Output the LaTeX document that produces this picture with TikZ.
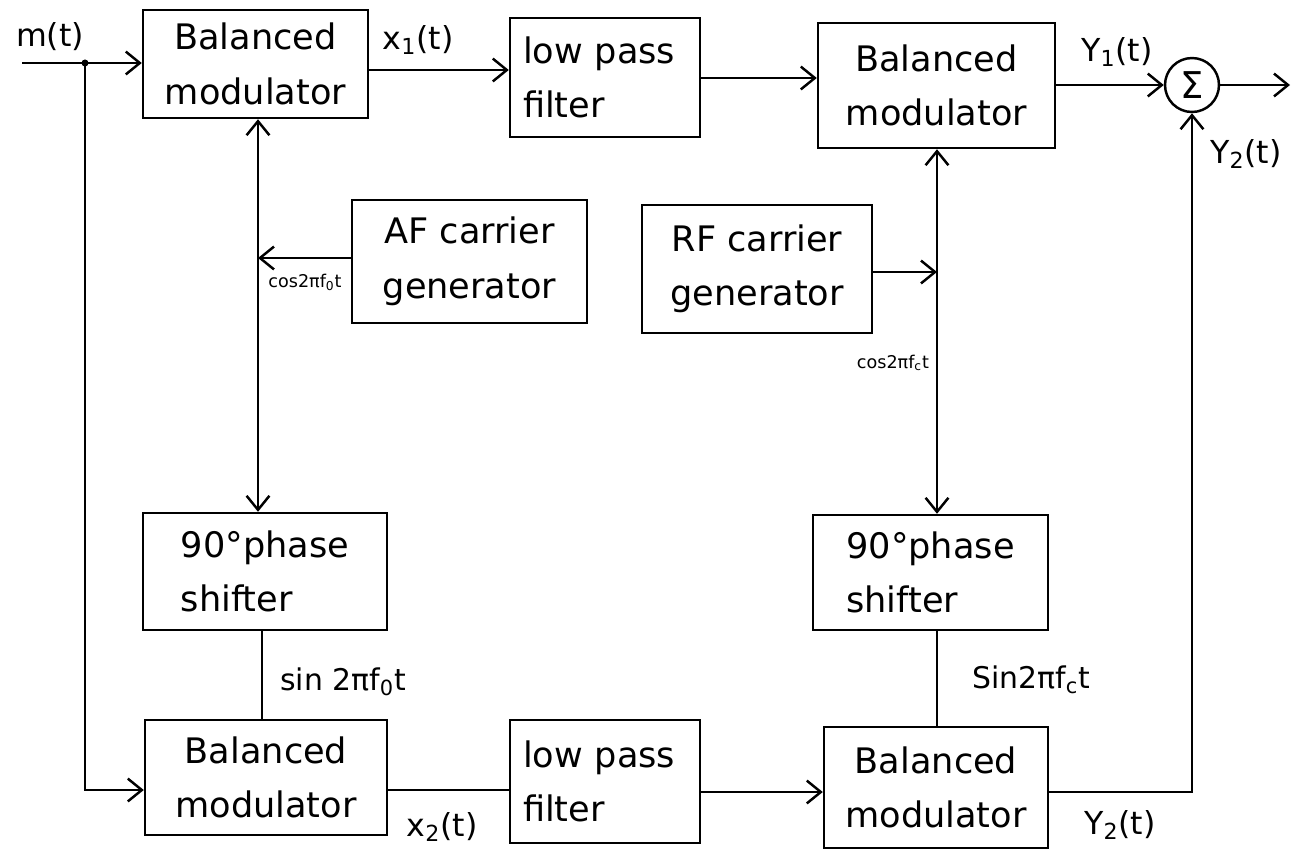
\documentclass[tikz,border=0pt]{standalone}
\usepackage{fontspec}
\setmainfont{DejaVu Sans}
\usetikzlibrary{arrows.meta,calc}
\begin{document}
\begin{tikzpicture}[x=0.02cm,y=-0.02cm,
  line width=1.4pt,
  blk/.style={draw, line width=1.4pt, inner sep=0pt, align=center, font=\fontsize{20}{31}\selectfont},
  blkl/.style={blk, align=left},
  lpfbox/.style={blk, align=left, inner xsep=0.26cm, text width=3.28cm},
  arr/.style={-{Straight Barb[length=8pt,width=13pt]}},
  darr/.style={{Straight Barb[length=8pt,width=13pt]}-{Straight Barb[length=8pt,width=13pt]}},
  lbl/.style={font=\fontsize{18}{20}\selectfont, inner sep=1pt},
  mid/.style={font=\fontsize{17}{19}\selectfont, inner sep=1pt},
  sml/.style={font=\fontsize{10}{12}\selectfont, inner sep=1pt}]
\useasboundingbox (0,0) rectangle (1296,853);

% blocks
\node[blk, minimum width=4.5cm, minimum height=2.16cm] (bm1) at (255.5,64) {Balanced\\modulator};
\node[lpfbox, minimum height=2.38cm] (lpf1) at (605,77.5) {low pass\\filter};
\node[blk, minimum width=4.74cm, minimum height=2.5cm] (bm2) at (936.5,85.5) {Balanced\\modulator};
\node[draw, circle, minimum size=1.08cm, inner sep=0pt, font=\fontsize{21}{24}\selectfont] (sig) at (1192,85) {Σ};
\node[blk, minimum width=4.7cm, minimum height=2.46cm] (af) at (469.5,261.5) {AF carrier\\generator};
\node[blk, minimum width=4.6cm, minimum height=2.56cm] (rf) at (757,269) {RF carrier\\generator};
\node[blkl, minimum width=4.88cm, minimum height=2.34cm] (psl) at (265,571.5) {90°phase\\shifter};
\node[blkl, minimum width=4.7cm, minimum height=2.3cm] (psr) at (930.5,572.5) {90°phase\\shifter};
\node[blk, minimum width=4.84cm, minimum height=2.3cm] (bm3) at (266,777.5) {Balanced\\modulator};
\node[lpfbox, minimum height=2.46cm] (lpf2) at (605,781.5) {low pass\\filter};
\node[blk, minimum width=4.48cm, minimum height=2.42cm] (bm4) at (936,787.5) {Balanced\\modulator};

% helper coordinates
\coordinate (min) at (22,63);
\coordinate (jn) at (85,63);
\coordinate (jb) at (85,790);
\coordinate (ya) at (0,70);
\coordinate (yb) at (0,78);
\coordinate (vl) at (258,0);
\coordinate (vl2) at (262,0);
\coordinate (vr) at (937,0);
\coordinate (yaf) at (0,258);
\coordinate (yrf) at (0,272);
\coordinate (yc) at (0,790);
\coordinate (yd) at (0,792);
\coordinate (rc) at (1192,792);
\coordinate (out) at (1290,85);

% connectors
\draw[arr] (min) -- (bm1.west |- min);
\fill (jn) circle[radius=2pt];
\draw[arr] (jn) -- (jb) -- (bm3.west |- jb);
\draw[arr] (bm1.east |- ya) -- (lpf1.west |- ya);
\draw[arr] (lpf1.east |- yb) -- (bm2.west |- yb);
\draw[arr] (bm2.east |- sig.west) -- (sig.west);
\draw[arr] (sig.east) -- (out);
\draw[darr] (vl |- bm1.south) -- (vl |- psl.north);
\draw[arr] (af.west |- yaf) -- (vl |- yaf);
\draw[darr] (vr |- bm2.south) -- (vr |- psr.north);
\draw[arr] (rf.east |- yrf) -- (vr |- yrf);
\draw (vl2 |- psl.south) -- (vl2 |- bm3.north);
\draw (vr |- psr.south) -- (vr |- bm4.north);
\draw (bm3.east |- yc) -- (lpf2.west |- yc);
\draw[arr] (lpf2.east |- yd) -- (bm4.west |- yd);
\draw[arr] (bm4.east |- yd) -- (rc) -- (sig.south);

% labels
\node[lbl] (lm) at (50,37) {m(t)};
\node[lbl] (lx1) at (418,40) {x\textsubscript{1}(t)};
\node[lbl] (ly1) at (1117,52) {Y\textsubscript{1}(t)};
\node[lbl] (ly2a) at (1246,154) {Y\textsubscript{2}(t)};
\node[lbl] (lx2) at (442,827) {x\textsubscript{2}(t)};
\node[lbl] (ly2b) at (1120,825) {Y\textsubscript{2}(t)};
\node[sml] (lcf0) at (305,282) {cos2πf\textsubscript{0}t};
\node[sml] (lcfc) at (893,363) {cos2πf\textsubscript{c}t};
\node[mid] (lsf0) at (343,682) {sin 2πf\textsubscript{0}t};
\node[mid] (lsfc) at (1031,680) {Sin2πf\textsubscript{c}t};
\end{tikzpicture}
\end{document}
